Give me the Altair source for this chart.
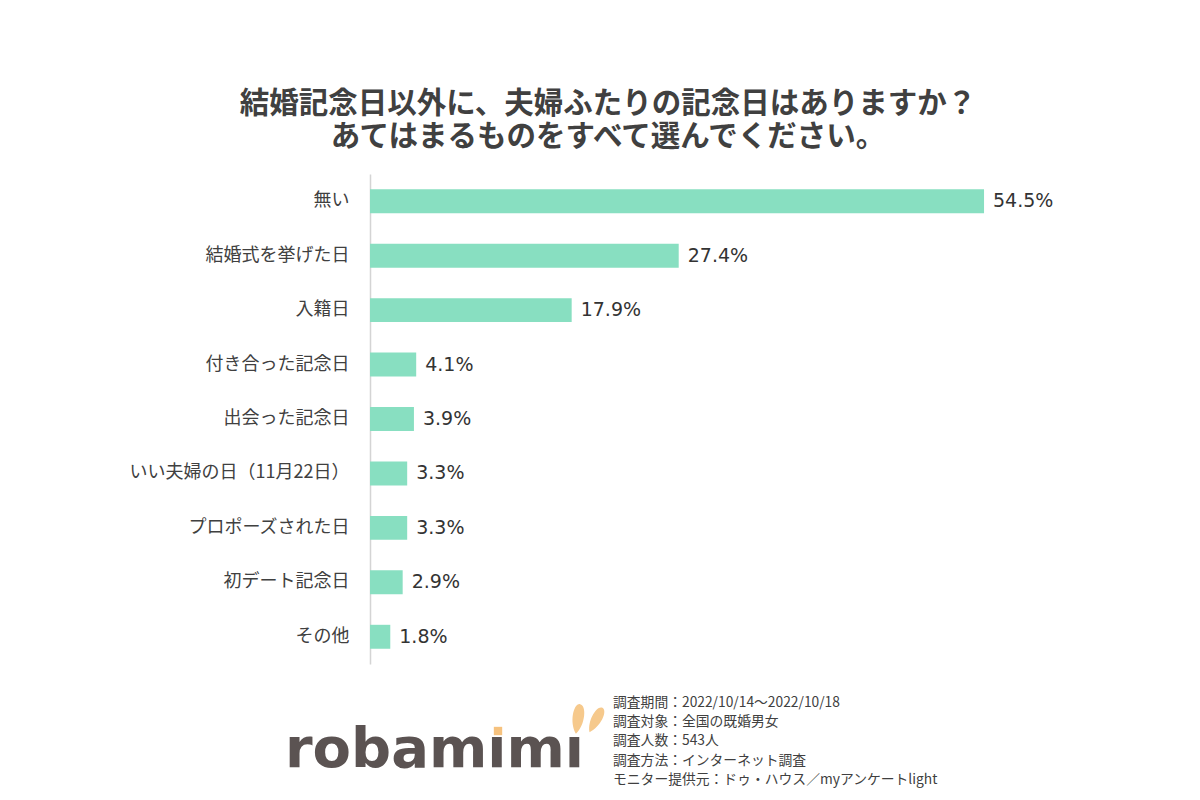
import altair as alt
import pandas as pd

categories = ["無い", "結婚式を挙げた日", "入籍日", "付き合った記念日", "出会った記念日",
              "いい夫婦の日（11月22日）", "プロポーズされた日", "初デート記念日", "その他"]
values = [54.5, 27.4, 17.9, 4.1, 3.9, 3.3, 3.3, 2.9, 1.8]
labels = ["54.5%", "27.4%", "17.9%", "4.1%", "3.9%", "3.3%", "3.3%", "2.9%", "1.8%"]

title_lines = ["結婚記念日以外に、夫婦ふたりの記念日はありますか？",
               "あてはまるものをすべて選んでください。"]
footer_lines = ["調査期間：2022/10/14～2022/10/18",
                "調査対象：全国の既婚男女",
                "調査人数：543人",
                "調査方法：インターネット調査",
                "モニター提供元：ドゥ・ハウス／myアンケートlight"]

df = pd.DataFrame({"cat": categories, "val": values, "label": labels})

FONT = "Noto Sans CJK JP"
TXT = "#404040"
W, H = 676, 490

y_enc = alt.Y("cat:N", sort=categories, title=None,
              scale=alt.Scale(paddingInner=0.56, paddingOuter=0.28),
              axis=alt.Axis(ticks=False, labelFontSize=18, labelColor=TXT, labelFont=FONT,
                            labelPadding=21, domainColor="#d4d4d4", domainWidth=1.5,
                            labelLimit=320))
x_enc = alt.X("val:Q", scale=alt.Scale(domain=[0, 60]), axis=None)

bars = alt.Chart(df).mark_bar(color="#88dfc1").encode(x=x_enc, y=y_enc)
vals = alt.Chart(df).mark_text(align="left", dx=9, fontSize=19, font="DejaVu Sans",
                               color="#333333").encode(
    x=x_enc, y=alt.Y("cat:N", sort=categories), text="label:N")

one = pd.DataFrame({"a": [0]})
title1 = alt.Chart(one).mark_text(
    fontSize=29.5, fontWeight="bold", font=FONT, color="#404040", align="center",
    baseline="middle"
).encode(x=alt.value(238), y=alt.value(-70), text=alt.value(title_lines[0]))
title2 = alt.Chart(one).mark_text(
    fontSize=29.5, fontWeight="bold", font=FONT, color="#404040", align="center",
    baseline="middle"
).encode(x=alt.value(238), y=alt.value(-37), text=alt.value(title_lines[1]))

footer = alt.Chart(one).mark_text(
    fontSize=13.8, font=FONT, color=TXT, align="left", baseline="top", lineHeight=19.2
).encode(x=alt.value(243), y=alt.value(522), text=alt.value(footer_lines))

# logo (decorative)
logo = alt.Chart(one).mark_text(
    fontSize=56, font="DejaVu Sans", fontWeight="bold", color="#5b5352", align="left",
    baseline="alphabetic"
).encode(x=alt.value(-85), y=alt.value(593), text=alt.value("robamımı"))

dot = alt.Chart(one).mark_point(
    shape="square", filled=True, color="#f6c27e", opacity=1, size=70
).encode(x=alt.value(128), y=alt.value(557))

EAR = "M0,1 C0.55,0.3 0.45,-1 0,-1 C-0.45,-1 -0.55,0.3 0,1 Z"
ear1 = alt.Chart(one).mark_point(
    shape=EAR, filled=True, color="#f6c98c", opacity=1, size=900, angle=8
).encode(x=alt.value(208), y=alt.value(545))
ear2 = alt.Chart(one).mark_point(
    shape=EAR, filled=True, color="#f6c98c", opacity=1, size=760, angle=28
).encode(x=alt.value(226), y=alt.value(546))

chart = alt.layer(bars, vals, title1, title2, footer, logo, dot, ear1, ear2).properties(
    width=W, height=H,
    background="white",
    autosize=alt.AutoSizeParams(type="none"),
    padding={"left": 370, "top": 174, "right": 154, "bottom": 136},
).configure_view(stroke=None)

chart.save("out.html", embed_options={"renderer": "svg", "actions": False})
